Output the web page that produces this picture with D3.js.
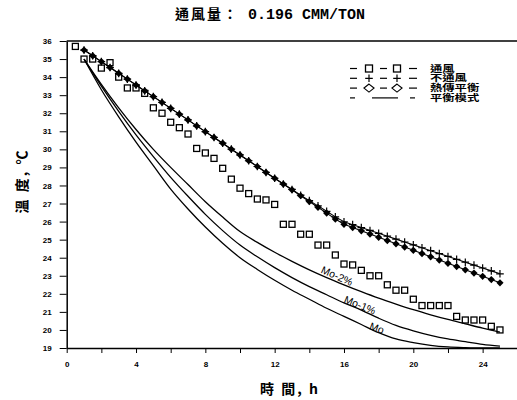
<!DOCTYPE html>
<html>
<head>
<meta charset="utf-8">
<script src="https://cdn.jsdelivr.net/npm/d3@7/dist/d3.min.js"></script>
<style>
body { margin: 0; background: #fff; }
svg { display: block; }
</style>
</head>
<body>
<script>
// Données (temps en h, température en °C)
const hoursVent = [0.5, 1, 1.5, 2, 2.5, 3, 3.5, 4, 4.5, 5, 5.5, 6, 6.5, 7, 7.5, 8, 8.5, 9, 9.5, 10,
    10.5, 11, 11.5, 12, 12.5, 13, 13.5, 14, 14.5, 15, 15.5, 16, 16.5, 17, 17.5, 18, 18.5, 19, 19.5, 20,
    20.5, 21, 21.5, 22, 22.5, 23, 23.5, 24, 24.5, 25]
const tempVent = [35.7, 35.0, 35.0, 34.5, 34.8, 34.0, 33.4, 33.4, 33.1, 32.3, 32.0, 31.5, 31.2, 30.85, 30.05, 29.8, 29.5, 28.95, 28.35, 27.85,
    27.55, 27.25, 27.2, 26.95, 25.85, 25.85, 25.3, 25.3, 24.7, 24.7, 24.15, 23.65, 23.6, 23.3, 23.0, 23.0, 22.5, 22.2, 22.2, 21.7,
    21.35, 21.35, 21.35, 21.35, 20.75, 20.55, 20.55, 20.55, 20.2, 20.0]

const hoursSim = [1, 1.5, 2, 2.5, 3, 3.5, 4, 4.5, 5, 5.5, 6, 6.5, 7, 7.5, 8, 8.5, 9, 9.5, 10, 10.5,
    11, 11.5, 12, 12.5, 13, 13.5, 14, 14.5, 15, 15.5, 16, 16.5, 17, 17.5, 18, 18.5, 19, 19.5, 20, 20.5,
    21, 21.5, 22, 22.5, 23, 23.5, 24, 24.5, 25]
const tempNoVent = [35.5, 35.18, 34.86, 34.53, 34.21, 33.89, 33.56, 33.24, 32.92, 32.6, 32.27, 31.95, 31.63, 31.3, 30.98, 30.66, 30.34, 30.01, 29.69, 29.37,
    29.05, 28.72, 28.4, 28.08, 27.78, 27.46, 27.16, 26.87, 26.57, 26.26, 25.99, 25.83, 25.67, 25.51, 25.35, 25.19, 25.03, 24.87, 24.71, 24.55,
    24.39, 24.23, 24.07, 23.91, 23.75, 23.59, 23.43, 23.27, 23.11]
const tempHeat = [35.5, 35.18, 34.86, 34.53, 34.21, 33.89, 33.56, 33.24, 32.92, 32.6, 32.27, 31.95, 31.63, 31.3, 30.98, 30.66, 30.34, 30.01, 29.69, 29.37,
    29.05, 28.72, 28.4, 28.08, 27.76, 27.43, 27.11, 26.79, 26.47, 26.14, 25.85, 25.67, 25.49, 25.31, 25.13, 24.95, 24.77, 24.59, 24.41, 24.23,
    24.05, 23.87, 23.69, 23.51, 23.33, 23.15, 22.97, 22.79, 22.61]

const hoursModel = [1, 2, 3, 4, 5, 6, 7, 8, 9, 10, 11, 12, 13, 14, 15, 16, 17, 18, 19, 20, 21, 22, 23, 24, 25]
const modelMo = [35.0, 33.3, 31.8, 30.4, 29.1, 27.8, 26.7, 25.7, 24.8, 24.0, 23.35, 22.75, 22.2, 21.7, 21.2, 20.75, 20.3, 19.85, 19.5, 19.3, 19.15, 19.06, 19.02, 19.0, 19.0]
const modelMo1 = [35.0, 33.5, 32.1, 30.8, 29.6, 28.45, 27.4, 26.4, 25.5, 24.7, 24.05, 23.45, 22.9, 22.4, 21.95, 21.5, 21.1, 20.65, 20.25, 19.95, 19.7, 19.5, 19.35, 19.2, 19.1]
const modelMo2 = [35.0, 33.6, 32.3, 31.1, 30.0, 29.0, 28.05, 27.1, 26.25, 25.45, 24.85, 24.3, 23.8, 23.33, 22.9, 22.5, 22.12, 21.76, 21.43, 21.12, 20.84, 20.58, 20.34, 20.1, 19.88]

const yTicks = [19, 20, 21, 22, 23, 24, 25, 26, 27, 28, 29, 30, 31, 32, 33, 34, 35, 36]
const xTicks = [0, 2, 4, 6, 8, 10, 12, 14, 16, 18, 20, 22, 24]
const xLabels = [0, 4, 8, 12, 16, 20, 24]

const legendNames = ['通風', '不通風', '熱傳平衡', '平衡模式']
const modelNames = ['Mo-2%', 'Mo-1%', 'Mo']

const cjk = '"Noto Sans CJK TC", "Noto Sans CJK SC", sans-serif'
const width = 517, height = 400

const svg = d3.select('body').append('svg')
    .attr('width', width)
    .attr('height', height)

// Echelles
const x = d3.scaleLinear().domain([0, 26]).range([66.7, 517.3])
const y = d3.scaleLinear().domain([19, 36]).range([348, 41])

// Titre
const title = svg.append('text')
    .attr('x', 175)
    .attr('y', 19)
    .style('font-weight', 'bold')
title.append('tspan')
    .style('font-family', cjk)
    .style('font-size', '14px')
    .style('letter-spacing', '2px')
    .text('通風量：')
title.append('tspan')
    .attr('x', 248)
    .style('font-family', '"Liberation Mono", monospace')
    .style('font-size', '15px')
    .text('0.196 CMM/TON')

// Axe Y
const yAxis = svg.append('g')
    .attr('transform', `translate(${x(0)},0)`)
    .call(d3.axisLeft(y).tickValues(yTicks).tickSize(7).tickPadding(8).tickSizeOuter(0))
yAxis.select('.domain').attr('stroke-width', 1.5)
yAxis.selectAll('text')
    .style('font-family', '"Liberation Sans", sans-serif')
    .style('font-size', '8px')
    .style('font-weight', 'bold')

// Axe X
const xAxis = svg.append('g')
    .attr('transform', `translate(0,${y(19)})`)
    .call(d3.axisBottom(x).tickValues(xTicks).tickSize(5).tickPadding(8).tickSizeOuter(0)
        .tickFormat(d => xLabels.includes(d) ? d : ''))
xAxis.select('.domain').attr('stroke-width', 1.5)
xAxis.selectAll('text')
    .style('font-family', '"Liberation Sans", sans-serif')
    .style('font-size', '8px')
    .style('font-weight', 'bold')

// Ligne du haut du cadre
svg.append('line')
    .attr('x1', x(0)).attr('x2', x(26))
    .attr('y1', y(36)).attr('y2', y(36))
    .attr('stroke', '#000')
    .attr('stroke-width', 1.3)

// Titres des axes
svg.append('text')
    .attr('transform', `translate(27,181) rotate(-90)`)
    .attr('text-anchor', 'middle')
    .style('font-family', cjk)
    .style('font-size', '14px')
    .style('font-weight', 'bold')
    .style('letter-spacing', '2px')
    .text('溫 度, ℃')

svg.append('text')
    .attr('x', 290)
    .attr('y', 394)
    .attr('text-anchor', 'middle')
    .style('font-family', cjk)
    .style('font-size', '14px')
    .style('font-weight', 'bold')
    .style('letter-spacing', '2px')
    .text('時 間, h')

// Courbes du modèle
const modelLine = d3.line()
    .x((d, i) => x(hoursModel[i]))
    .y(d => y(d))
    .curve(d3.curveMonotoneX)

const models = [modelMo2, modelMo1, modelMo]
svg.append('g')
    .selectAll('path')
    .data(models)
    .join('path')
    .attr('d', modelLine)
    .attr('fill', 'none')
    .attr('stroke', '#000')
    .attr('stroke-width', 1.3)

// Etiquettes des courbes (t, T, angle)
const labelPos = [[15.6, 22.99, 24], [16.92, 21.38, 22], [17.9, 20.11, 20]]
svg.append('g')
    .selectAll('text')
    .data(modelNames)
    .join('text')
    .attr('transform', (d, i) => `translate(${x(labelPos[i][0])},${y(labelPos[i][1])}) rotate(${labelPos[i][2]})`)
    .attr('text-anchor', 'middle')
    .attr('dy', '0.35em')
    .style('font-family', '"Liberation Sans", sans-serif')
    .style('font-size', '10.5px')
    .text(d => d)

// Lignes des séries simulées
const simLine = d3.line()
    .x((d, i) => x(hoursSim[i]))
    .y(d => y(d))

svg.append('path')
    .attr('d', simLine(tempHeat))
    .attr('fill', 'none')
    .attr('stroke', '#000')
    .attr('stroke-width', 1.1)

svg.append('path')
    .attr('d', simLine(tempNoVent))
    .attr('fill', 'none')
    .attr('stroke', '#000')
    .attr('stroke-width', 1.1)

// Symboles
const diamondPath = (r, ry) => `M0,${-ry}L${r},0L0,${ry}L${-r},0Z`
const plusPath = r => `M${-r},0H${r}M0,${-r}V${r}`

svg.append('g')
    .selectAll('path')
    .data(tempHeat)
    .join('path')
    .attr('transform', (d, i) => `translate(${x(hoursSim[i])},${y(d)})`)
    .attr('d', diamondPath(3.6, 3.6))
    .attr('fill', '#000')

svg.append('g')
    .selectAll('path')
    .data(tempNoVent)
    .join('path')
    .attr('transform', (d, i) => `translate(${x(hoursSim[i])},${y(d)})`)
    .attr('d', plusPath(3.8))
    .attr('stroke', '#000')
    .attr('stroke-width', 1.2)

svg.append('g')
    .selectAll('rect')
    .data(tempVent)
    .join('rect')
    .attr('x', (d, i) => x(hoursVent[i]) - 3)
    .attr('y', d => y(d) - 3)
    .attr('width', 6)
    .attr('height', 6)
    .attr('fill', 'none')
    .attr('stroke', '#000')
    .attr('stroke-width', 1.3)

// Légende
const legend = svg.append('g')
const rowY = [68.5, 78.3, 88.1, 97.9]
const dashes = [[350, 357], [380, 387], [409, 417]]
const markerX = [369, 397]

legendNames.forEach((name, i) => {
    const g = legend.append('g').attr('transform', `translate(0,${rowY[i]})`)
    if (i < 3) {
        dashes.forEach(d => g.append('line')
            .attr('x1', d[0]).attr('x2', d[1])
            .attr('stroke', '#000').attr('stroke-width', 1.2))
        markerX.forEach(mx => {
            if (i === 0) {
                g.append('rect')
                    .attr('x', mx - 3.5).attr('y', -3.5)
                    .attr('width', 7).attr('height', 7)
                    .attr('fill', 'none').attr('stroke', '#000').attr('stroke-width', 1.3)
            } else if (i === 1) {
                g.append('path')
                    .attr('transform', `translate(${mx},0)`)
                    .attr('d', plusPath(3.8))
                    .attr('stroke', '#000').attr('stroke-width', 1.2)
            } else {
                g.append('path')
                    .attr('transform', `translate(${mx},0)`)
                    .attr('d', diamondPath(5, 4))
                    .attr('fill', 'none').attr('stroke', '#000').attr('stroke-width', 1.2)
            }
        })
    } else {
        [[350, 355], [372, 398], [410, 415]].forEach(d => g.append('line')
            .attr('x1', d[0]).attr('x2', d[1])
            .attr('stroke', '#000').attr('stroke-width', 1.2))
    }
    g.append('text')
        .attr('transform', 'translate(430,0) scale(1.4,1)')
        .attr('dy', '0.36em')
        .style('font-family', '"Liberation Sans", "Noto Sans CJK TC", sans-serif')
        .style('font-size', '8.8px')
        .style('font-weight', 'bold')
        .text(name)
})
</script>
</body>
</html>
